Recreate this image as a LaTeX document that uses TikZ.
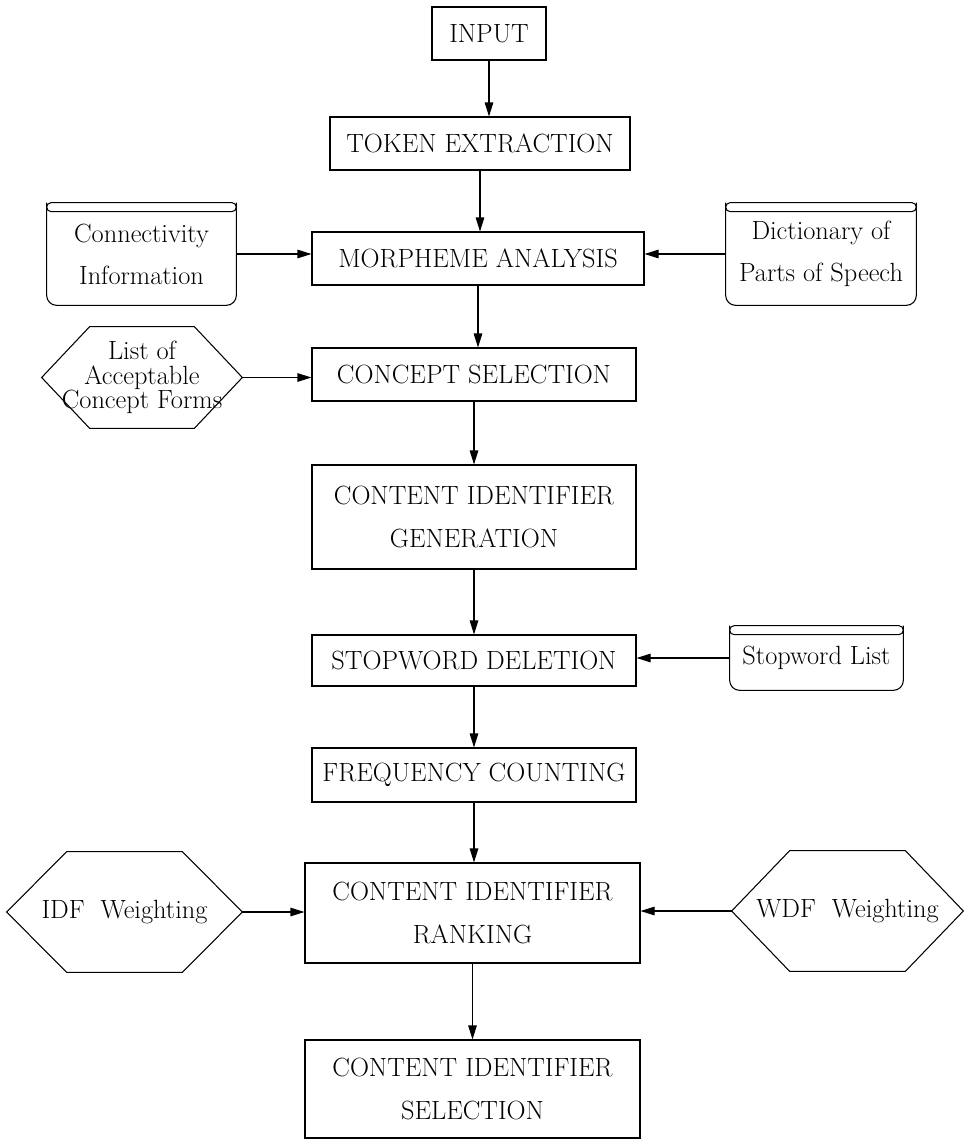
\documentclass[tikz,border=0pt]{standalone}
\usetikzlibrary{arrows.meta}
\begin{document}
\begin{tikzpicture}[
    font=\fontsize{15}{24}\selectfont,
    procbox/.style={draw, line width=0.6pt, align=center, inner sep=0pt},
    storebox/.style={align=center, inner sep=0pt},
    hexbox/.style={align=center, inner sep=0pt},
    arr/.style={line width=0.6pt, -{Triangle[length=2.8mm,width=1.7mm]}}
]
    \useasboundingbox (0,0) rectangle (19.34,-22.8);

    % main chain
    \node[procbox, minimum width=2.28cm, minimum height=1.06cm] (input) at (9.78,-0.67) {INPUT};
    \node[procbox, minimum width=6.0cm, minimum height=1.06cm] (token) at (9.6,-2.87) {TOKEN EXTRACTION};
    \node[procbox, minimum width=6.64cm, minimum height=1.06cm] (morph) at (9.56,-5.17) {MORPHEME ANALYSIS};
    \node[procbox, minimum width=6.48cm, minimum height=1.06cm] (concept) at (9.48,-7.49) {CONCEPT SELECTION};
    \node[procbox, minimum width=6.48cm, minimum height=2.08cm] (gen) at (9.48,-10.34) {CONTENT IDENTIFIER\\GENERATION};
    \node[procbox, minimum width=6.48cm, minimum height=1.02cm] (stop) at (9.48,-13.21) {STOPWORD DELETION};
    \node[procbox, minimum width=6.48cm, minimum height=1.08cm] (freq) at (9.48,-15.5) {FREQUENCY COUNTING};
    \node[procbox, minimum width=6.7cm, minimum height=2.0cm] (rank) at (9.45,-18.26) {CONTENT IDENTIFIER\\RANKING};
    \node[procbox, minimum width=6.7cm, minimum height=1.96cm] (sel) at (9.45,-21.78) {CONTENT IDENTIFIER\\SELECTION};

    % stored data
    \node[storebox, minimum width=3.78cm, minimum height=2.04cm] (conn) at (2.83,-5.08) {Connectivity\\Information};
    \node[storebox, minimum width=3.8cm, minimum height=2.04cm] (dict) at (16.42,-5.08) {Dictionary of\\Parts of Speech};
    \node[storebox, minimum width=3.46cm, minimum height=1.28cm] (stoplist) at (16.33,-13.16) {Stopword List};
    \foreach \n in {conn,dict,stoplist} {
        \draw[line width=0.6pt, rounded corners=0.2cm] (\n.north west) -- (\n.south west) -- (\n.south east) -- (\n.north east);
        \draw[line width=0.6pt, rounded corners=0.09cm] (\n.north west) rectangle ([yshift=-0.18cm]\n.north east);
    }

    % hexagons
    \node[hexbox, font=\fontsize{15}{14}\selectfont, minimum width=4.0cm, minimum height=2.02cm] (accept) at (2.84,-7.55) {List of\\Acceptable\\Concept Forms};
    \node[hexbox, minimum width=4.7cm, minimum height=2.4cm] (idf) at (2.49,-18.24) {IDF\ \ Weighting};
    \node[hexbox, minimum width=4.62cm, minimum height=2.4cm] (wdf) at (16.95,-18.22) {WDF\ \ Weighting};
    \foreach \n/\p in {accept/0.96, idf/1.2, wdf/1.16}
        \draw[line width=0.6pt] (\n.west) -- ([xshift=\p cm]\n.north west) -- ([xshift=-\p cm]\n.north east)
            -- (\n.east) -- ([xshift=-\p cm]\n.south east) -- ([xshift=\p cm]\n.south west) -- cycle;

    % connectors
    \foreach \a/\b in {input/token, token/morph, morph/concept, concept/gen, gen/stop, stop/freq, freq/rank, rank/sel}
        \draw[arr] (\a.south) -- (\a.south |- \b.north);
    \draw[arr] (conn.east) -- (conn.east -| morph.west);
    \draw[arr] (dict.west) -- (dict.west -| morph.east);
    \draw[arr] (accept.east) -- (accept.east -| concept.west);
    \draw[arr] (stoplist.west) -- (stoplist.west -| stop.east);
    \draw[arr] (idf.east) -- (idf.east -| rank.west);
    \draw[arr] (wdf.west) -- (wdf.west -| rank.east);
\end{tikzpicture}
\end{document}
